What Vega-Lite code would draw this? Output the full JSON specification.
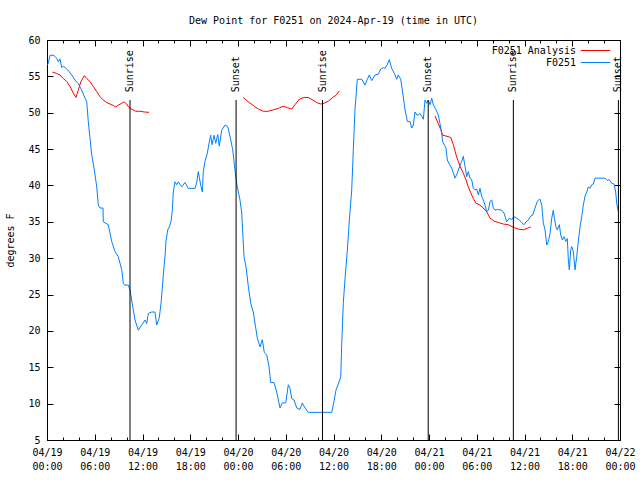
{
  "$schema": "https://vega.github.io/schema/vega-lite/v6.json",
  "autosize": "none",
  "width": 573,
  "height": 400,
  "padding": {"left": 47, "top": 40, "right": 20, "bottom": 40},
  "background": "white",
  "title": {"text": "Dew Point for F0251 on 2024-Apr-19 (time in UTC)", "font": "DejaVu Sans Mono", "fontSize": 10, "fontWeight": "normal", "anchor": "middle", "offset": 9, "color": "black"},
  "config": {
    "view": {"stroke": "black", "strokeWidth": 1},
    "font": "DejaVu Sans Mono",
    "axis": {"domain": false, "grid": false, "labelFont": "DejaVu Sans Mono", "labelFontSize": 10, "labelColor": "black", "tickColor": "black", "tickWidth": 1, "titleFont": "DejaVu Sans Mono", "titleFontSize": 10, "titleFontWeight": "normal", "titleColor": "black"}
  },
  "datasets": {
    "dew": [
      {"series": "F0251 Analysis", "seg": "a1", "hour": 0.67, "dewpt": 55.6},
      {"series": "F0251 Analysis", "seg": "a1", "hour": 1.22, "dewpt": 55.4},
      {"series": "F0251 Analysis", "seg": "a1", "hour": 1.63, "dewpt": 55.2},
      {"series": "F0251 Analysis", "seg": "a1", "hour": 2.05, "dewpt": 54.7},
      {"series": "F0251 Analysis", "seg": "a1", "hour": 2.48, "dewpt": 54.3},
      {"series": "F0251 Analysis", "seg": "a1", "hour": 2.89, "dewpt": 53.6},
      {"series": "F0251 Analysis", "seg": "a1", "hour": 3.30, "dewpt": 52.7},
      {"series": "F0251 Analysis", "seg": "a1", "hour": 3.64, "dewpt": 52.1},
      {"series": "F0251 Analysis", "seg": "a1", "hour": 3.93, "dewpt": 53.1},
      {"series": "F0251 Analysis", "seg": "a1", "hour": 4.27, "dewpt": 54.3},
      {"series": "F0251 Analysis", "seg": "a1", "hour": 4.69, "dewpt": 55.1},
      {"series": "F0251 Analysis", "seg": "a1", "hour": 4.99, "dewpt": 54.7},
      {"series": "F0251 Analysis", "seg": "a1", "hour": 5.40, "dewpt": 54.3},
      {"series": "F0251 Analysis", "seg": "a1", "hour": 5.82, "dewpt": 53.6},
      {"series": "F0251 Analysis", "seg": "a1", "hour": 6.25, "dewpt": 52.9},
      {"series": "F0251 Analysis", "seg": "a1", "hour": 6.66, "dewpt": 52.2},
      {"series": "F0251 Analysis", "seg": "a1", "hour": 7.07, "dewpt": 51.75},
      {"series": "F0251 Analysis", "seg": "a1", "hour": 7.50, "dewpt": 51.4},
      {"series": "F0251 Analysis", "seg": "a1", "hour": 7.92, "dewpt": 51.2},
      {"series": "F0251 Analysis", "seg": "a1", "hour": 8.33, "dewpt": 51.0},
      {"series": "F0251 Analysis", "seg": "a1", "hour": 8.63, "dewpt": 50.8},
      {"series": "F0251 Analysis", "seg": "a1", "hour": 9.05, "dewpt": 51.1},
      {"series": "F0251 Analysis", "seg": "a1", "hour": 9.39, "dewpt": 51.3},
      {"series": "F0251 Analysis", "seg": "a1", "hour": 9.71, "dewpt": 51.5},
      {"series": "F0251 Analysis", "seg": "a1", "hour": 10.02, "dewpt": 51.2},
      {"series": "F0251 Analysis", "seg": "a1", "hour": 10.30, "dewpt": 50.7},
      {"series": "F0251 Analysis", "seg": "a1", "hour": 10.64, "dewpt": 50.5},
      {"series": "F0251 Analysis", "seg": "a1", "hour": 11.15, "dewpt": 50.2},
      {"series": "F0251 Analysis", "seg": "a1", "hour": 11.69, "dewpt": 50.2},
      {"series": "F0251 Analysis", "seg": "a1", "hour": 12.23, "dewpt": 50.1},
      {"series": "F0251 Analysis", "seg": "a1", "hour": 12.82, "dewpt": 50.05},
      {"series": "F0251 Analysis", "seg": "a2", "hour": 24.67, "dewpt": 52.1},
      {"series": "F0251 Analysis", "seg": "a2", "hour": 25.30, "dewpt": 51.5},
      {"series": "F0251 Analysis", "seg": "a2", "hour": 25.92, "dewpt": 51.0},
      {"series": "F0251 Analysis", "seg": "a2", "hour": 26.55, "dewpt": 50.5},
      {"series": "F0251 Analysis", "seg": "a2", "hour": 27.18, "dewpt": 50.2},
      {"series": "F0251 Analysis", "seg": "a2", "hour": 27.81, "dewpt": 50.2},
      {"series": "F0251 Analysis", "seg": "a2", "hour": 28.44, "dewpt": 50.4},
      {"series": "F0251 Analysis", "seg": "a2", "hour": 29.07, "dewpt": 50.6},
      {"series": "F0251 Analysis", "seg": "a2", "hour": 29.69, "dewpt": 50.9},
      {"series": "F0251 Analysis", "seg": "a2", "hour": 30.20, "dewpt": 50.7},
      {"series": "F0251 Analysis", "seg": "a2", "hour": 30.75, "dewpt": 50.5},
      {"series": "F0251 Analysis", "seg": "a2", "hour": 31.16, "dewpt": 51.1},
      {"series": "F0251 Analysis", "seg": "a2", "hour": 31.70, "dewpt": 51.85},
      {"series": "F0251 Analysis", "seg": "a2", "hour": 32.29, "dewpt": 52.1},
      {"series": "F0251 Analysis", "seg": "a2", "hour": 32.84, "dewpt": 52.1},
      {"series": "F0251 Analysis", "seg": "a2", "hour": 33.39, "dewpt": 51.75},
      {"series": "F0251 Analysis", "seg": "a2", "hour": 33.89, "dewpt": 51.4},
      {"series": "F0251 Analysis", "seg": "a2", "hour": 34.39, "dewpt": 51.2},
      {"series": "F0251 Analysis", "seg": "a2", "hour": 34.81, "dewpt": 51.3},
      {"series": "F0251 Analysis", "seg": "a2", "hour": 35.35, "dewpt": 51.6},
      {"series": "F0251 Analysis", "seg": "a2", "hour": 35.90, "dewpt": 52.1},
      {"series": "F0251 Analysis", "seg": "a2", "hour": 36.32, "dewpt": 52.4},
      {"series": "F0251 Analysis", "seg": "a2", "hour": 36.73, "dewpt": 53.0},
      {"series": "F0251 Analysis", "seg": "a3", "hour": 48.76, "dewpt": 49.55},
      {"series": "F0251 Analysis", "seg": "a3", "hour": 49.17, "dewpt": 48.5},
      {"series": "F0251 Analysis", "seg": "a3", "hour": 49.47, "dewpt": 47.7},
      {"series": "F0251 Analysis", "seg": "a3", "hour": 49.72, "dewpt": 46.9},
      {"series": "F0251 Analysis", "seg": "a3", "hour": 50.14, "dewpt": 46.8},
      {"series": "F0251 Analysis", "seg": "a3", "hour": 50.73, "dewpt": 46.6},
      {"series": "F0251 Analysis", "seg": "a3", "hour": 51.06, "dewpt": 45.6},
      {"series": "F0251 Analysis", "seg": "a3", "hour": 51.40, "dewpt": 44.2},
      {"series": "F0251 Analysis", "seg": "a3", "hour": 51.68, "dewpt": 43.3},
      {"series": "F0251 Analysis", "seg": "a3", "hour": 51.99, "dewpt": 42.4},
      {"series": "F0251 Analysis", "seg": "a3", "hour": 52.31, "dewpt": 41.7},
      {"series": "F0251 Analysis", "seg": "a3", "hour": 52.65, "dewpt": 40.75},
      {"series": "F0251 Analysis", "seg": "a3", "hour": 52.94, "dewpt": 39.8},
      {"series": "F0251 Analysis", "seg": "a3", "hour": 53.24, "dewpt": 39.0},
      {"series": "F0251 Analysis", "seg": "a3", "hour": 53.57, "dewpt": 38.2},
      {"series": "F0251 Analysis", "seg": "a3", "hour": 53.91, "dewpt": 37.55},
      {"series": "F0251 Analysis", "seg": "a3", "hour": 54.41, "dewpt": 37.3},
      {"series": "F0251 Analysis", "seg": "a3", "hour": 54.83, "dewpt": 36.9},
      {"series": "F0251 Analysis", "seg": "a3", "hour": 55.25, "dewpt": 36.4},
      {"series": "F0251 Analysis", "seg": "a3", "hour": 55.67, "dewpt": 35.5},
      {"series": "F0251 Analysis", "seg": "a3", "hour": 56.17, "dewpt": 35.1},
      {"series": "F0251 Analysis", "seg": "a3", "hour": 56.71, "dewpt": 34.9},
      {"series": "F0251 Analysis", "seg": "a3", "hour": 57.34, "dewpt": 34.7},
      {"series": "F0251 Analysis", "seg": "a3", "hour": 57.96, "dewpt": 34.6},
      {"series": "F0251 Analysis", "seg": "a3", "hour": 58.60, "dewpt": 34.25},
      {"series": "F0251 Analysis", "seg": "a3", "hour": 59.23, "dewpt": 34.0},
      {"series": "F0251 Analysis", "seg": "a3", "hour": 59.85, "dewpt": 33.9},
      {"series": "F0251 Analysis", "seg": "a3", "hour": 60.36, "dewpt": 34.1},
      {"series": "F0251 Analysis", "seg": "a3", "hour": 60.78, "dewpt": 34.3},
      {"series": "F0251", "seg": "o", "hour": 0.05, "dewpt": 56.6},
      {"series": "F0251", "seg": "o", "hour": 0.16, "dewpt": 56.8},
      {"series": "F0251", "seg": "o", "hour": 0.38, "dewpt": 57.9},
      {"series": "F0251", "seg": "o", "hour": 0.75, "dewpt": 57.9},
      {"series": "F0251", "seg": "o", "hour": 0.92, "dewpt": 57.8},
      {"series": "F0251", "seg": "o", "hour": 1.22, "dewpt": 57.5},
      {"series": "F0251", "seg": "o", "hour": 1.42, "dewpt": 57.0},
      {"series": "F0251", "seg": "o", "hour": 1.63, "dewpt": 57.4},
      {"series": "F0251", "seg": "o", "hour": 1.85, "dewpt": 56.2},
      {"series": "F0251", "seg": "o", "hour": 2.05, "dewpt": 56.4},
      {"series": "F0251", "seg": "o", "hour": 2.60, "dewpt": 55.9},
      {"series": "F0251", "seg": "o", "hour": 3.10, "dewpt": 55.2},
      {"series": "F0251", "seg": "o", "hour": 3.52, "dewpt": 54.5},
      {"series": "F0251", "seg": "o", "hour": 3.93, "dewpt": 54.0},
      {"series": "F0251", "seg": "o", "hour": 4.36, "dewpt": 53.1},
      {"series": "F0251", "seg": "o", "hour": 4.78, "dewpt": 52.0},
      {"series": "F0251", "seg": "o", "hour": 4.99, "dewpt": 51.5},
      {"series": "F0251", "seg": "o", "hour": 5.19, "dewpt": 48.8},
      {"series": "F0251", "seg": "o", "hour": 5.40, "dewpt": 46.5},
      {"series": "F0251", "seg": "o", "hour": 5.62, "dewpt": 44.2},
      {"series": "F0251", "seg": "o", "hour": 5.91, "dewpt": 42.4},
      {"series": "F0251", "seg": "o", "hour": 6.16, "dewpt": 40.5},
      {"series": "F0251", "seg": "o", "hour": 6.25, "dewpt": 39.8},
      {"series": "F0251", "seg": "o", "hour": 6.45, "dewpt": 37.3},
      {"series": "F0251", "seg": "o", "hour": 6.66, "dewpt": 36.9},
      {"series": "F0251", "seg": "o", "hour": 7.04, "dewpt": 36.9},
      {"series": "F0251", "seg": "o", "hour": 7.07, "dewpt": 35.0},
      {"series": "F0251", "seg": "o", "hour": 7.70, "dewpt": 34.6},
      {"series": "F0251", "seg": "o", "hour": 8.13, "dewpt": 32.3},
      {"series": "F0251", "seg": "o", "hour": 8.55, "dewpt": 30.9},
      {"series": "F0251", "seg": "o", "hour": 8.96, "dewpt": 30.2},
      {"series": "F0251", "seg": "o", "hour": 9.39, "dewpt": 28.4},
      {"series": "F0251", "seg": "o", "hour": 9.59, "dewpt": 26.5},
      {"series": "F0251", "seg": "o", "hour": 9.80, "dewpt": 26.3},
      {"series": "F0251", "seg": "o", "hour": 10.22, "dewpt": 26.3},
      {"series": "F0251", "seg": "o", "hour": 10.43, "dewpt": 25.6},
      {"series": "F0251", "seg": "o", "hour": 10.84, "dewpt": 22.9},
      {"series": "F0251", "seg": "o", "hour": 11.06, "dewpt": 21.5},
      {"series": "F0251", "seg": "o", "hour": 11.47, "dewpt": 20.1},
      {"series": "F0251", "seg": "o", "hour": 11.90, "dewpt": 20.8},
      {"series": "F0251", "seg": "o", "hour": 12.31, "dewpt": 21.5},
      {"series": "F0251", "seg": "o", "hour": 12.53, "dewpt": 21.0},
      {"series": "F0251", "seg": "o", "hour": 12.73, "dewpt": 22.4},
      {"series": "F0251", "seg": "o", "hour": 13.16, "dewpt": 22.6},
      {"series": "F0251", "seg": "o", "hour": 13.57, "dewpt": 22.6},
      {"series": "F0251", "seg": "o", "hour": 13.78, "dewpt": 20.8},
      {"series": "F0251", "seg": "o", "hour": 14.11, "dewpt": 21.8},
      {"series": "F0251", "seg": "o", "hour": 14.33, "dewpt": 23.8},
      {"series": "F0251", "seg": "o", "hour": 14.54, "dewpt": 26.6},
      {"series": "F0251", "seg": "o", "hour": 14.70, "dewpt": 28.8},
      {"series": "F0251", "seg": "o", "hour": 14.83, "dewpt": 30.2},
      {"series": "F0251", "seg": "o", "hour": 14.95, "dewpt": 32.3},
      {"series": "F0251", "seg": "o", "hour": 15.17, "dewpt": 33.9},
      {"series": "F0251", "seg": "o", "hour": 15.37, "dewpt": 34.3},
      {"series": "F0251", "seg": "o", "hour": 15.58, "dewpt": 35.0},
      {"series": "F0251", "seg": "o", "hour": 15.75, "dewpt": 36.6},
      {"series": "F0251", "seg": "o", "hour": 15.87, "dewpt": 39.1},
      {"series": "F0251", "seg": "o", "hour": 16.08, "dewpt": 40.5},
      {"series": "F0251", "seg": "o", "hour": 16.30, "dewpt": 40.1},
      {"series": "F0251", "seg": "o", "hour": 16.50, "dewpt": 40.5},
      {"series": "F0251", "seg": "o", "hour": 16.93, "dewpt": 39.8},
      {"series": "F0251", "seg": "o", "hour": 17.34, "dewpt": 40.4},
      {"series": "F0251", "seg": "o", "hour": 17.76, "dewpt": 39.6},
      {"series": "F0251", "seg": "o", "hour": 18.60, "dewpt": 39.6},
      {"series": "F0251", "seg": "o", "hour": 18.81, "dewpt": 40.4},
      {"series": "F0251", "seg": "o", "hour": 19.01, "dewpt": 41.9},
      {"series": "F0251", "seg": "o", "hour": 19.32, "dewpt": 40.0},
      {"series": "F0251", "seg": "o", "hour": 19.52, "dewpt": 39.1},
      {"series": "F0251", "seg": "o", "hour": 19.64, "dewpt": 41.9},
      {"series": "F0251", "seg": "o", "hour": 19.85, "dewpt": 43.3},
      {"series": "F0251", "seg": "o", "hour": 20.14, "dewpt": 44.4},
      {"series": "F0251", "seg": "o", "hour": 20.39, "dewpt": 46.0},
      {"series": "F0251", "seg": "o", "hour": 20.57, "dewpt": 46.9},
      {"series": "F0251", "seg": "o", "hour": 20.73, "dewpt": 45.6},
      {"series": "F0251", "seg": "o", "hour": 20.99, "dewpt": 46.9},
      {"series": "F0251", "seg": "o", "hour": 21.20, "dewpt": 45.8},
      {"series": "F0251", "seg": "o", "hour": 21.45, "dewpt": 47.0},
      {"series": "F0251", "seg": "o", "hour": 21.65, "dewpt": 45.4},
      {"series": "F0251", "seg": "o", "hour": 21.95, "dewpt": 47.6},
      {"series": "F0251", "seg": "o", "hour": 22.37, "dewpt": 48.3},
      {"series": "F0251", "seg": "o", "hour": 22.71, "dewpt": 48.1},
      {"series": "F0251", "seg": "o", "hour": 23.00, "dewpt": 46.7},
      {"series": "F0251", "seg": "o", "hour": 23.34, "dewpt": 44.9},
      {"series": "F0251", "seg": "o", "hour": 23.62, "dewpt": 42.1},
      {"series": "F0251", "seg": "o", "hour": 23.91, "dewpt": 39.8},
      {"series": "F0251", "seg": "o", "hour": 24.25, "dewpt": 38.0},
      {"series": "F0251", "seg": "o", "hour": 24.47, "dewpt": 36.2},
      {"series": "F0251", "seg": "o", "hour": 24.62, "dewpt": 33.0},
      {"series": "F0251", "seg": "o", "hour": 24.76, "dewpt": 30.2},
      {"series": "F0251", "seg": "o", "hour": 25.01, "dewpt": 28.8},
      {"series": "F0251", "seg": "o", "hour": 25.30, "dewpt": 26.1},
      {"series": "F0251", "seg": "o", "hour": 25.60, "dewpt": 23.8},
      {"series": "F0251", "seg": "o", "hour": 25.92, "dewpt": 22.6},
      {"series": "F0251", "seg": "o", "hour": 26.23, "dewpt": 20.4},
      {"series": "F0251", "seg": "o", "hour": 26.43, "dewpt": 19.0},
      {"series": "F0251", "seg": "o", "hour": 26.77, "dewpt": 17.8},
      {"series": "F0251", "seg": "o", "hour": 27.05, "dewpt": 18.8},
      {"series": "F0251", "seg": "o", "hour": 27.31, "dewpt": 17.0},
      {"series": "F0251", "seg": "o", "hour": 27.61, "dewpt": 16.7},
      {"series": "F0251", "seg": "o", "hour": 27.90, "dewpt": 15.1},
      {"series": "F0251", "seg": "o", "hour": 28.11, "dewpt": 12.9},
      {"series": "F0251", "seg": "o", "hour": 28.53, "dewpt": 12.9},
      {"series": "F0251", "seg": "o", "hour": 28.86, "dewpt": 11.6},
      {"series": "F0251", "seg": "o", "hour": 29.28, "dewpt": 9.4},
      {"series": "F0251", "seg": "o", "hour": 29.57, "dewpt": 10.1},
      {"series": "F0251", "seg": "o", "hour": 30.00, "dewpt": 10.1},
      {"series": "F0251", "seg": "o", "hour": 30.32, "dewpt": 12.6},
      {"series": "F0251", "seg": "o", "hour": 30.54, "dewpt": 12.1},
      {"series": "F0251", "seg": "o", "hour": 30.75, "dewpt": 10.7},
      {"series": "F0251", "seg": "o", "hour": 31.04, "dewpt": 10.5},
      {"series": "F0251", "seg": "o", "hour": 31.38, "dewpt": 9.4},
      {"series": "F0251", "seg": "o", "hour": 31.79, "dewpt": 9.2},
      {"series": "F0251", "seg": "o", "hour": 32.08, "dewpt": 10.1},
      {"series": "F0251", "seg": "o", "hour": 32.42, "dewpt": 9.4},
      {"series": "F0251", "seg": "o", "hour": 32.84, "dewpt": 8.8},
      {"series": "F0251", "seg": "o", "hour": 35.78, "dewpt": 8.8},
      {"series": "F0251", "seg": "o", "hour": 36.06, "dewpt": 10.3},
      {"series": "F0251", "seg": "o", "hour": 36.32, "dewpt": 11.9},
      {"series": "F0251", "seg": "o", "hour": 36.61, "dewpt": 12.7},
      {"series": "F0251", "seg": "o", "hour": 36.91, "dewpt": 13.7},
      {"series": "F0251", "seg": "o", "hour": 37.03, "dewpt": 18.1},
      {"series": "F0251", "seg": "o", "hour": 37.23, "dewpt": 23.8},
      {"series": "F0251", "seg": "o", "hour": 37.45, "dewpt": 27.2},
      {"series": "F0251", "seg": "o", "hour": 37.57, "dewpt": 28.8},
      {"series": "F0251", "seg": "o", "hour": 37.74, "dewpt": 31.1},
      {"series": "F0251", "seg": "o", "hour": 38.01, "dewpt": 35.5},
      {"series": "F0251", "seg": "o", "hour": 38.29, "dewpt": 39.4},
      {"series": "F0251", "seg": "o", "hour": 38.49, "dewpt": 44.9},
      {"series": "F0251", "seg": "o", "hour": 38.70, "dewpt": 50.4},
      {"series": "F0251", "seg": "o", "hour": 38.99, "dewpt": 54.6},
      {"series": "F0251", "seg": "o", "hour": 39.55, "dewpt": 54.6},
      {"series": "F0251", "seg": "o", "hour": 39.96, "dewpt": 53.8},
      {"series": "F0251", "seg": "o", "hour": 40.25, "dewpt": 54.6},
      {"series": "F0251", "seg": "o", "hour": 40.50, "dewpt": 55.2},
      {"series": "F0251", "seg": "o", "hour": 40.80, "dewpt": 54.4},
      {"series": "F0251", "seg": "o", "hour": 41.22, "dewpt": 55.2},
      {"series": "F0251", "seg": "o", "hour": 41.63, "dewpt": 55.3},
      {"series": "F0251", "seg": "o", "hour": 41.93, "dewpt": 56.0},
      {"series": "F0251", "seg": "o", "hour": 42.26, "dewpt": 56.2},
      {"series": "F0251", "seg": "o", "hour": 42.47, "dewpt": 56.1},
      {"series": "F0251", "seg": "o", "hour": 42.76, "dewpt": 56.6},
      {"series": "F0251", "seg": "o", "hour": 43.01, "dewpt": 57.3},
      {"series": "F0251", "seg": "o", "hour": 43.31, "dewpt": 56.1},
      {"series": "F0251", "seg": "o", "hour": 43.73, "dewpt": 55.2},
      {"series": "F0251", "seg": "o", "hour": 43.94, "dewpt": 54.6},
      {"series": "F0251", "seg": "o", "hour": 44.14, "dewpt": 55.2},
      {"series": "F0251", "seg": "o", "hour": 44.45, "dewpt": 54.6},
      {"series": "F0251", "seg": "o", "hour": 44.70, "dewpt": 52.7},
      {"series": "F0251", "seg": "o", "hour": 44.99, "dewpt": 50.4},
      {"series": "F0251", "seg": "o", "hour": 45.28, "dewpt": 48.8},
      {"series": "F0251", "seg": "o", "hour": 45.61, "dewpt": 48.8},
      {"series": "F0251", "seg": "o", "hour": 45.83, "dewpt": 47.9},
      {"series": "F0251", "seg": "o", "hour": 46.03, "dewpt": 48.3},
      {"series": "F0251", "seg": "o", "hour": 46.24, "dewpt": 50.1},
      {"series": "F0251", "seg": "o", "hour": 46.46, "dewpt": 49.7},
      {"series": "F0251", "seg": "o", "hour": 46.66, "dewpt": 49.7},
      {"series": "F0251", "seg": "o", "hour": 46.87, "dewpt": 49.9},
      {"series": "F0251", "seg": "o", "hour": 47.09, "dewpt": 49.5},
      {"series": "F0251", "seg": "o", "hour": 47.29, "dewpt": 49.1},
      {"series": "F0251", "seg": "o", "hour": 47.50, "dewpt": 51.75},
      {"series": "F0251", "seg": "o", "hour": 47.71, "dewpt": 51.3},
      {"series": "F0251", "seg": "o", "hour": 47.91, "dewpt": 51.75},
      {"series": "F0251", "seg": "o", "hour": 48.13, "dewpt": 51.1},
      {"series": "F0251", "seg": "o", "hour": 48.34, "dewpt": 52.0},
      {"series": "F0251", "seg": "o", "hour": 48.54, "dewpt": 51.1},
      {"series": "F0251", "seg": "o", "hour": 48.88, "dewpt": 50.4},
      {"series": "F0251", "seg": "o", "hour": 49.17, "dewpt": 49.7},
      {"series": "F0251", "seg": "o", "hour": 49.38, "dewpt": 48.5},
      {"series": "F0251", "seg": "o", "hour": 49.60, "dewpt": 47.2},
      {"series": "F0251", "seg": "o", "hour": 49.72, "dewpt": 46.0},
      {"series": "F0251", "seg": "o", "hour": 49.92, "dewpt": 45.6},
      {"series": "F0251", "seg": "o", "hour": 50.14, "dewpt": 45.1},
      {"series": "F0251", "seg": "o", "hour": 50.30, "dewpt": 43.5},
      {"series": "F0251", "seg": "o", "hour": 50.52, "dewpt": 43.0},
      {"series": "F0251", "seg": "o", "hour": 50.85, "dewpt": 42.4},
      {"series": "F0251", "seg": "o", "hour": 51.06, "dewpt": 41.7},
      {"series": "F0251", "seg": "o", "hour": 51.27, "dewpt": 41.0},
      {"series": "F0251", "seg": "o", "hour": 51.56, "dewpt": 41.7},
      {"series": "F0251", "seg": "o", "hour": 51.90, "dewpt": 42.8},
      {"series": "F0251", "seg": "o", "hour": 52.11, "dewpt": 43.3},
      {"series": "F0251", "seg": "o", "hour": 52.31, "dewpt": 44.0},
      {"series": "F0251", "seg": "o", "hour": 52.53, "dewpt": 42.6},
      {"series": "F0251", "seg": "o", "hour": 52.74, "dewpt": 41.2},
      {"series": "F0251", "seg": "o", "hour": 52.94, "dewpt": 41.9},
      {"series": "F0251", "seg": "o", "hour": 53.15, "dewpt": 41.0},
      {"series": "F0251", "seg": "o", "hour": 53.37, "dewpt": 40.75},
      {"series": "F0251", "seg": "o", "hour": 53.57, "dewpt": 39.6},
      {"series": "F0251", "seg": "o", "hour": 53.78, "dewpt": 39.4},
      {"series": "F0251", "seg": "o", "hour": 54.00, "dewpt": 39.5},
      {"series": "F0251", "seg": "o", "hour": 54.20, "dewpt": 38.7},
      {"series": "F0251", "seg": "o", "hour": 54.41, "dewpt": 39.6},
      {"series": "F0251", "seg": "o", "hour": 54.62, "dewpt": 38.5},
      {"series": "F0251", "seg": "o", "hour": 54.83, "dewpt": 38.0},
      {"series": "F0251", "seg": "o", "hour": 55.04, "dewpt": 37.3},
      {"series": "F0251", "seg": "o", "hour": 55.25, "dewpt": 36.4},
      {"series": "F0251", "seg": "o", "hour": 55.46, "dewpt": 36.6},
      {"series": "F0251", "seg": "o", "hour": 55.67, "dewpt": 37.8},
      {"series": "F0251", "seg": "o", "hour": 55.88, "dewpt": 38.0},
      {"series": "F0251", "seg": "o", "hour": 56.08, "dewpt": 36.9},
      {"series": "F0251", "seg": "o", "hour": 56.30, "dewpt": 36.6},
      {"series": "F0251", "seg": "o", "hour": 56.58, "dewpt": 36.7},
      {"series": "F0251", "seg": "o", "hour": 57.14, "dewpt": 36.6},
      {"series": "F0251", "seg": "o", "hour": 57.43, "dewpt": 36.2},
      {"series": "F0251", "seg": "o", "hour": 57.76, "dewpt": 35.0},
      {"series": "F0251", "seg": "o", "hour": 58.09, "dewpt": 35.5},
      {"series": "F0251", "seg": "o", "hour": 58.39, "dewpt": 35.3},
      {"series": "F0251", "seg": "o", "hour": 58.68, "dewpt": 35.7},
      {"series": "F0251", "seg": "o", "hour": 59.02, "dewpt": 35.5},
      {"series": "F0251", "seg": "o", "hour": 59.35, "dewpt": 35.25},
      {"series": "F0251", "seg": "o", "hour": 59.65, "dewpt": 34.9},
      {"series": "F0251", "seg": "o", "hour": 59.94, "dewpt": 34.6},
      {"series": "F0251", "seg": "o", "hour": 60.19, "dewpt": 35.0},
      {"series": "F0251", "seg": "o", "hour": 60.48, "dewpt": 35.25},
      {"series": "F0251", "seg": "o", "hour": 60.78, "dewpt": 35.8},
      {"series": "F0251", "seg": "o", "hour": 61.03, "dewpt": 35.9},
      {"series": "F0251", "seg": "o", "hour": 61.32, "dewpt": 36.9},
      {"series": "F0251", "seg": "o", "hour": 61.61, "dewpt": 37.8},
      {"series": "F0251", "seg": "o", "hour": 61.86, "dewpt": 38.1},
      {"series": "F0251", "seg": "o", "hour": 61.95, "dewpt": 38.1},
      {"series": "F0251", "seg": "o", "hour": 62.17, "dewpt": 37.3},
      {"series": "F0251", "seg": "o", "hour": 62.37, "dewpt": 34.8},
      {"series": "F0251", "seg": "o", "hour": 62.58, "dewpt": 33.9},
      {"series": "F0251", "seg": "o", "hour": 62.80, "dewpt": 31.8},
      {"series": "F0251", "seg": "o", "hour": 63.00, "dewpt": 32.3},
      {"series": "F0251", "seg": "o", "hour": 63.21, "dewpt": 33.4},
      {"series": "F0251", "seg": "o", "hour": 63.42, "dewpt": 35.5},
      {"series": "F0251", "seg": "o", "hour": 63.62, "dewpt": 36.6},
      {"series": "F0251", "seg": "o", "hour": 63.75, "dewpt": 35.5},
      {"series": "F0251", "seg": "o", "hour": 63.96, "dewpt": 34.3},
      {"series": "F0251", "seg": "o", "hour": 64.12, "dewpt": 33.9},
      {"series": "F0251", "seg": "o", "hour": 64.38, "dewpt": 34.6},
      {"series": "F0251", "seg": "o", "hour": 64.55, "dewpt": 33.2},
      {"series": "F0251", "seg": "o", "hour": 64.75, "dewpt": 32.5},
      {"series": "F0251", "seg": "o", "hour": 64.97, "dewpt": 32.95},
      {"series": "F0251", "seg": "o", "hour": 65.18, "dewpt": 32.3},
      {"series": "F0251", "seg": "o", "hour": 65.38, "dewpt": 32.7},
      {"series": "F0251", "seg": "o", "hour": 65.51, "dewpt": 29.75},
      {"series": "F0251", "seg": "o", "hour": 65.63, "dewpt": 28.4},
      {"series": "F0251", "seg": "o", "hour": 65.81, "dewpt": 31.1},
      {"series": "F0251", "seg": "o", "hour": 65.93, "dewpt": 31.6},
      {"series": "F0251", "seg": "o", "hour": 66.14, "dewpt": 30.9},
      {"series": "F0251", "seg": "o", "hour": 66.35, "dewpt": 28.4},
      {"series": "F0251", "seg": "o", "hour": 66.56, "dewpt": 30.2},
      {"series": "F0251", "seg": "o", "hour": 66.76, "dewpt": 32.3},
      {"series": "F0251", "seg": "o", "hour": 66.98, "dewpt": 34.3},
      {"series": "F0251", "seg": "o", "hour": 67.19, "dewpt": 35.7},
      {"series": "F0251", "seg": "o", "hour": 67.39, "dewpt": 37.3},
      {"series": "F0251", "seg": "o", "hour": 67.61, "dewpt": 38.55},
      {"series": "F0251", "seg": "o", "hour": 67.82, "dewpt": 39.1},
      {"series": "F0251", "seg": "o", "hour": 68.02, "dewpt": 39.8},
      {"series": "F0251", "seg": "o", "hour": 68.23, "dewpt": 39.6},
      {"series": "F0251", "seg": "o", "hour": 68.45, "dewpt": 40.1},
      {"series": "F0251", "seg": "o", "hour": 68.65, "dewpt": 40.2},
      {"series": "F0251", "seg": "o", "hour": 68.86, "dewpt": 41.0},
      {"series": "F0251", "seg": "o", "hour": 70.12, "dewpt": 41.0},
      {"series": "F0251", "seg": "o", "hour": 70.41, "dewpt": 40.7},
      {"series": "F0251", "seg": "o", "hour": 70.66, "dewpt": 40.8},
      {"series": "F0251", "seg": "o", "hour": 70.96, "dewpt": 40.3},
      {"series": "F0251", "seg": "o", "hour": 71.25, "dewpt": 40.2},
      {"series": "F0251", "seg": "o", "hour": 71.46, "dewpt": 39.1},
      {"series": "F0251", "seg": "o", "hour": 71.59, "dewpt": 37.5},
      {"series": "F0251", "seg": "o", "hour": 71.79, "dewpt": 36.4}
    ],
    "sun": [
      {"event": "Sunrise", "hour": 10.43},
      {"event": "Sunset", "hour": 23.76},
      {"event": "Sunrise", "hour": 34.62},
      {"event": "Sunset", "hour": 47.9},
      {"event": "Sunrise", "hour": 58.6},
      {"event": "Sunset", "hour": 71.8}
    ]
  },
  "layer": [
    {
      "data": {"name": "dew"},
      "transform": [{"filter": "datum.series == 'F0251 Analysis'"}],
      "mark": {"type": "line", "strokeWidth": 1, "interpolate": "linear"},
      "encoding": {
        "x": {"field": "hour", "type": "quantitative", "scale": {"domain": [0, 72], "nice": false, "zero": false},
              "axis": {"orient": "bottom", "title": null, "values": [0, 6, 12, 18, 24, 30, 36, 42, 48, 54, 60, 66, 72], "tickSize": -6, "labelPadding": 13, "labelFlush": false, "labelOverlap": false, "labelBaseline": "top", "labelLineHeight": 14,
                       "labelExpr": "['04/' + (19 + floor(datum.value / 24)), (datum.value % 24 < 10 ? '0' : '') + (datum.value % 24) + ':00']"}},
        "y": {"field": "dewpt", "type": "quantitative", "scale": {"domain": [5, 60], "nice": false, "zero": false},
              "axis": {"orient": "left", "title": "degrees F", "values": [5, 10, 15, 20, 25, 30, 35, 40, 45, 50, 55, 60], "tickSize": -6, "labelPadding": 13, "titlePadding": 12}},
        "color": {"field": "series", "type": "nominal", "scale": {"domain": ["F0251 Analysis", "F0251"], "range": ["#ff0000", "#0080ff"]},
                  "legend": {"orient": "none", "legendX": 542, "legendY": 4, "title": null, "symbolType": "M-2.45,0H2.45", "symbolSize": 144, "symbolStrokeWidth": 1, "labelAlign": "right", "labelOffset": -26, "labelFont": "DejaVu Sans Mono", "labelFontSize": 10, "labelColor": "black", "rowPadding": 0}},
        "detail": {"field": "seg"}
      }
    },
    {
      "data": {"name": "dew"},
      "transform": [{"filter": "datum.series == 'F0251'"}],
      "mark": {"type": "line", "strokeWidth": 1, "interpolate": "linear"},
      "encoding": {
        "x": {"field": "hour", "type": "quantitative",
              "axis": {"orient": "top", "title": null, "values": [0, 6, 12, 18, 24, 30, 36, 42, 48, 54, 60, 66, 72], "tickSize": -6, "labels": false}},
        "y": {"field": "dewpt", "type": "quantitative",
              "axis": {"orient": "right", "title": null, "values": [5, 10, 15, 20, 25, 30, 35, 40, 45, 50, 55, 60], "tickSize": -6, "labels": false}},
        "color": {"field": "series", "type": "nominal"}
      }
    },
    {
      "data": {"name": "sun"},
      "mark": {"type": "rule", "color": "black", "strokeWidth": 1},
      "encoding": {
        "x": {"field": "hour", "type": "quantitative",
              "axis": {"orient": "bottom", "title": null, "values": [0,2,4,6,8,10,12,14,16,18,20,22,24,26,28,30,32,34,36,38,40,42,44,46,48,50,52,54,56,58,60,62,64,66,68,70,72], "tickSize": -3, "labels": false}},
        "y": {"datum": 51.75, "type": "quantitative", "axis": null},
        "y2": {"datum": 5}
      }
    },
    {
      "data": {"name": "sun"},
      "mark": {"type": "text", "angle": 270, "align": "left", "baseline": "middle", "font": "DejaVu Sans Mono", "fontSize": 10, "color": "black"},
      "encoding": {
        "x": {"field": "hour", "type": "quantitative",
              "axis": {"orient": "top", "title": null, "values": [0,2,4,6,8,10,12,14,16,18,20,22,24,26,28,30,32,34,36,38,40,42,44,46,48,50,52,54,56,58,60,62,64,66,68,70,72], "tickSize": -3, "labels": false}},
        "y": {"datum": 52.8, "type": "quantitative", "axis": null},
        "text": {"field": "event"}
      }
    }
  ],
  "resolve": {"axis": {"x": "independent", "y": "independent"}}
}
